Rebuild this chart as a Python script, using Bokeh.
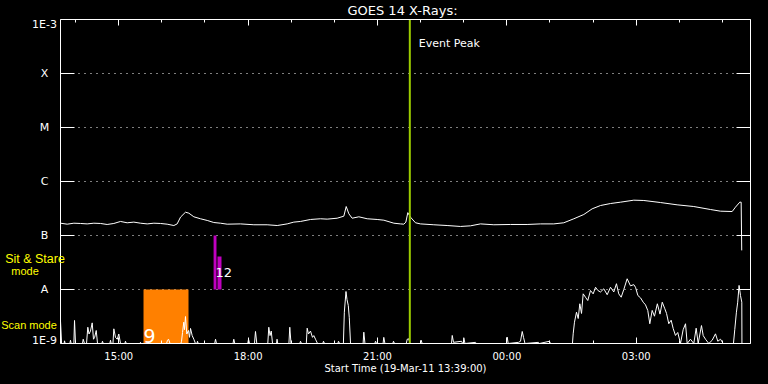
from bokeh.plotting import figure
from bokeh.models import (Range1d, FixedTicker, LinearAxis, LogAxis, Label)
from bokeh.embed import file_html
from bokeh.resources import INLINE

# ---------------- data ----------------
title_text = "GOES 14 X-Rays:"
x_axis_text = "Start Time (19-Mar-11 13:39:00)"
# time axis: minutes after 19-Mar-11 13:39:00
t_start, t_end = 0, 960
major_ticks = [81, 261, 441, 621, 801]
major_labels = ["15:00", "18:00", "21:00", "00:00", "03:00"]
minor_ticks = [21, 81, 141, 201, 261, 321, 381, 441, 501, 561, 621, 681, 741, 801, 861, 921]

decades = [1e-9, 1e-8, 1e-7, 1e-6, 1e-5, 1e-4, 1e-3]
decade_labels = ["1E-9", "A", "B", "C", "M", "X", "1E-3"]

# long channel (1-8 A), flux in 1e-7 W/m^2
long_t = [0, 9.3, 18.6, 27.8, 37.1, 46.4, 55.7, 64.9, 74.2, 83.5,
          92.8, 102, 111.3, 120.6, 129.9, 139.1, 148.4, 157.7, 162.3, 167,
          173.9, 178.6, 185.5, 194.8, 204.1, 213.3, 222.6, 231.9, 250.4, 269,
          287.5, 301.5, 315.4, 324.6, 333.9, 347.8, 361.7, 371, 384.9, 394.2,
          397.5, 401.2, 405.8, 415.1, 426.7, 440.6, 449.9, 463.8, 473.0, 477.7,
          480.5, 483.2, 486.9, 493.9, 500.8, 519.4, 537.9, 556.5, 570.4, 584.3,
          602.9, 626.0, 649.2, 667.8, 686.3, 700.2, 714.2, 728.1, 739.7, 751.3,
          765.2, 779.1, 797.6, 811.6, 834.7, 857.9, 881.1, 904.3, 918.2, 934.5,
          939.1, 945.1, 947.0, 947.8]
long_f = [1.69, 1.62, 1.69, 1.67, 1.64, 1.69, 1.67, 1.60, 1.67, 1.82,
          1.72, 1.77, 1.69, 1.64, 1.69, 1.67, 1.62, 1.53, 1.64, 2.19,
          2.70, 2.59, 2.22, 2.04, 1.90, 1.74, 1.69, 1.62, 1.64, 1.58,
          1.58, 1.53, 1.64, 1.77, 1.82, 1.98, 2.04, 2.01, 2.09, 2.28,
          3.44, 2.52, 2.09, 2.22, 2.04, 1.98, 1.92, 1.69, 1.64, 1.62,
          1.77, 2.65, 2.19, 1.72, 1.64, 1.58, 1.53, 1.47, 1.51, 1.64,
          1.58, 1.60, 1.60, 1.64, 1.64, 1.72, 2.04, 2.45, 3.12, 3.59,
          3.91, 4.14, 4.51, 4.45, 4.08, 3.70, 3.44, 3.03, 2.82, 2.78,
          3.35, 4.14, 4.14, 0.53]

# short channel (0.5-4 A), flux in 1e-9 W/m^2
short_t = [0, 1.5, 5.0, 5.6, 6.5, 13.0, 13.9, 14.8, 18.6, 19.5, 20.9, 30.6, 31.6, 33.4,
           36.2, 38.0, 39.7, 41.7, 44.1, 45.9, 47.5, 49.7, 51.5, 57.5, 58.4, 59.5,
           68.6, 69.6, 70.5, 73.0, 74.2, 76.5, 79.0, 81.1, 83.5, 89.5, 90.4, 91.5,
           110.4, 111.3, 112.2, 147.5, 148.9, 150.3, 152.4, 167.5, 168.4, 169.8, 171.5,
           172.5, 173.9, 175.7, 178.1, 179.5, 180.9, 183.2, 185.5, 187.8, 189.8, 190.6,
           191.6, 214.5, 215.7, 217.0, 240.0, 241.1, 242.5, 260.5, 261.6, 263.0, 269.9,
           271.3, 273.1, 288.4, 289.8, 291.5, 293.2, 295.0, 300.5, 301.3, 302.2, 317.8,
           319.0, 320.7, 332.9, 333.9, 335.3, 342.0, 343.2, 345.0, 347.8, 350.6, 352.4,
           354.8, 357.6, 364.9, 365.9, 367.3, 385.8, 386.8, 388.2, 393.6, 394.9, 397.2,
           398.6, 400.4, 401.8, 403.5, 421.0, 422.0, 423.6, 437.3, 438.3, 439.7, 448.8,
           449.8, 451.4, 462.3, 463.3, 464.7, 481.0, 482.4, 484.5, 486.3, 500.8, 501.8,
           503.2, 544.0, 545.0, 546.8, 557.9, 559.5, 560.3, 561.1, 562.8, 577.4, 578.8,
           620.5, 621.5, 622.9, 637.2, 640.0, 642.4, 644.2, 646.3, 665.0, 666.4, 680.3,
           681.7, 712.3, 713.3, 715.1, 717.9, 720.3, 722.5, 724.9, 727.2, 730.4, 733.6,
           737.4, 741.1, 744.4, 747.6, 751.3, 755.9, 760.6, 765.2, 769.8, 773.5, 776.7,
           780.1, 783.7, 788.4, 793.0, 797.6, 800.0, 803.3, 807.0, 810.7, 813.9, 817.1,
           819.9, 823.2, 826.4, 830.4, 834.1, 837.2, 840.5, 843.2, 846.3, 849.6, 852.4,
           855.6, 858.8, 862.6, 866.3, 869.6, 871.9, 876.5, 881.1, 884.4, 887.2, 891.8,
           894.2, 897.4, 902.0, 906.7, 911.3, 914.5, 918.3, 922.0, 936.3, 938.1, 940.4,
           942.2, 944.1, 946.1, 947.9, 948.1]
short_f = [2.6, 1.0, 1.0, 1.12, 1.0, 1.0, 1.15, 1.0, 1.0, 2.67, 1.0, 1.0, 1.2, 1.0,
           1.0, 2.0, 1.5, 1.7, 2.41, 1.2, 1.3, 1.74, 1.0, 1.0, 1.1, 1.0,
           1.0, 1.15, 1.0, 1.0, 1.87, 1.3, 1.2, 1.5, 1.0, 1.0, 1.1, 1.0,
           1.0, 1.05, 1.0, 1.0, 1.15, 1.2, 1.0, 1.0, 1.1, 1.6, 2.48,
           1.8, 3.16, 1.5, 1.74, 1.3, 1.9, 1.4, 1.2, 1.0, 1.0, 1.1,
           1.0, 1.0, 1.2, 1.0, 1.0, 1.2, 1.0, 1.0, 1.2, 1.0, 1.0,
           1.67, 1.0, 1.0, 2.0, 1.4, 1.7, 1.0, 1.0, 1.2, 1.0, 1.0,
           2.0, 1.0, 1.0, 1.1, 1.0, 1.0, 1.92, 1.5, 1.7, 1.3, 1.4,
           1.2, 1.0, 1.0, 1.1, 1.0, 1.0, 1.1, 1.0, 1.0, 3.8, 9.18,
           6.5, 5.06, 3.0, 1.0, 1.0, 1.62, 1.0, 1.0, 1.1, 1.0, 1.0,
           1.3, 1.0, 1.0, 1.1, 1.0, 1.0, 1.2, 1.22, 1.0, 1.0, 1.15,
           1.0, 1.0, 1.41, 1.05, 1.1, 1.0, 1.0, 1.28, 1.0, 1.05, 1.0,
           1.0, 1.31, 1.0, 1.05, 1.1, 1.67, 1.3, 1.0, 1.05, 1.0, 1.1,
           1.0, 1.0, 1.51, 2.48, 3.8, 2.9, 5.44, 3.6, 8.32, 7.2, 6.25,
           9.58, 8.3, 11.0, 9.6, 9.0, 10.3, 8.0, 11.0, 9.0, 12.8, 8.3,
           7.2, 10.0, 15.8, 11.7, 12.3, 11.0, 7.74, 7.0, 5.82, 5.2, 4.08,
           2.32, 4.1, 3.2, 5.44, 3.5, 5.82, 4.5, 3.6, 2.32, 2.7, 1.9,
           1.41, 1.6, 1.0, 1.8, 2.32, 1.0, 1.2, 1.0, 1.92, 1.0, 2.15,
           1.4, 1.2, 1.0, 1.15, 1.51, 1.1, 1.2, 1.0, 1.0, 1.8, 3.8,
           5.82, 11.9, 7.7, 5.82, 1.0]

# observing modes
scan_start = [115.5]
scan_end = [178.1]
scan_count = "9"
ss_start = [213.0, 218.4]
ss_end = [217.0, 224.0]
ss_top = [1.0e-7, 4.1e-8]
ss_count = "12"
event_peak_t = 486.0
event_text = "Event Peak"

# ---------------- layout ----------------
W, H = 768, 384
PLOT_L, PLOT_R, PLOT_T, PLOT_B = 60, 750, 19, 343   # data box in pixels
FONT = "DejaVu Sans"
WHITE = "#ffffff"
YELLOW = "#ffff00"

y_lo, y_hi = decades[0], decades[-1]
min_per_px = (t_end - t_start) / (PLOT_R - PLOT_L)
dec_per_px = 6.0 / (PLOT_B - PLOT_T)
x_range = Range1d(t_start - PLOT_L * min_per_px, t_end + (W - PLOT_R) * min_per_px)
y_range = Range1d(y_lo * 10 ** (-(H - PLOT_B) * dec_per_px),
                  y_hi * 10 ** (PLOT_T * dec_per_px))


def up(v, px):
    """value shifted up by px pixels on the log axis (for text placement)"""
    return v * 10 ** (px * dec_per_px)


p = figure(width=W, height=H, min_border=0, x_range=x_range, y_range=y_range,
           y_axis_type="log", x_axis_location=None, y_axis_location=None,
           output_backend="svg", toolbar_location=None,
           background_fill_color="black", border_fill_color="black",
           outline_line_color=None)
p.grid.visible = False

decade_ticker = FixedTicker(ticks=decades, minor_ticks=[])
time_ticker = FixedTicker(ticks=major_ticks, minor_ticks=minor_ticks)


def hide_labels(ax, ticks):
    ax.major_label_overrides = {t: "" for t in ticks}
    ax.major_label_text_color = None
    ax.major_label_standoff = 0


def y_axis(loc):
    ax = LogAxis(ticker=decade_ticker, fixed_location=loc, bounds=(y_lo, y_hi))
    ax.axis_line_color = WHITE
    ax.major_tick_line_color = WHITE
    ax.major_tick_in = 14
    ax.major_tick_out = 0
    ax.minor_tick_line_color = None
    hide_labels(ax, decades)
    return ax


def x_axis(loc, labels):
    ax = LinearAxis(ticker=time_ticker, fixed_location=loc, bounds=(t_start, t_end))
    ax.axis_line_color = WHITE
    ax.major_tick_line_color = WHITE
    ax.minor_tick_line_color = WHITE
    ax.major_tick_in = 6
    ax.major_tick_out = 0
    ax.minor_tick_in = 3
    ax.minor_tick_out = 0
    if labels:
        ax.major_label_overrides = {t: l for t, l in zip(major_ticks, major_labels)}
        ax.major_label_text_color = WHITE
        ax.major_label_text_font = FONT
        ax.major_label_text_font_size = "10px"
        ax.major_label_standoff = 7
    else:
        hide_labels(ax, major_ticks)
    return ax


# dotted decade grid inside the data box
inner = decades[1:-1]
p.segment(x0=[t_start] * len(inner), x1=[t_end] * len(inner), y0=inner, y1=inner,
          line_color=WHITE, line_width=1, line_dash="1 5")

# observing mode blocks
p.quad(left=scan_start, right=scan_end, bottom=[y_lo], top=[1e-8],
       fill_color="#ff8000", line_color=None)
p.quad(left=ss_start, right=ss_end, bottom=[1e-8, 1e-8], top=ss_top,
       fill_color="#c000c0", line_color=None)

# traces
p.line(long_t, [v * 1e-7 for v in long_f], line_color=WHITE, line_width=1)
p.line(short_t, [v * 1e-9 for v in short_f], line_color=WHITE, line_width=1)

# event peak line
p.line([event_peak_t, event_peak_t], [y_lo, y_hi], line_color="#9ccc00", line_width=2)

# axes (own box)
p.add_layout(y_axis(t_start), "left")
p.add_layout(y_axis(t_end), "right")
p.add_layout(x_axis(y_lo, True), "below")
p.add_layout(x_axis(y_hi, False), "above")


def text(x, y, s, color=WHITE, size="11px", font=FONT, align="left", xu="data", yu="data", xo=0):
    p.add_layout(Label(x=x, y=y, x_units=xu, y_units=yu, x_offset=xo, text=s,
                       text_color=color, text_font=font, text_font_size=size,
                       text_align=align, text_baseline="middle"))


# texts (y = vertical centre of the glyphs)
text(event_peak_t, up(y_hi, -24), event_text, xo=9)
text(scan_start[0], up(y_lo, 7.5), scan_count, size="19px")
text(ss_start[0], up(1e-8, 17), ss_count, size="13px", xo=2)

for v, lab in zip(decades, decade_labels):
    shift = -5 if v == y_hi else (3 if v == y_lo else 0)
    text(44, up(v, shift), lab, align="center", xu="screen")

for s, cx, cy, fs in [("Sit & Stare", 34.5, 258, "12.5px"), ("mode", 24.5, 270, "11px"),
                      ("Scan mode", 28.5, 324, "11px")]:
    text(cx, H - cy, s, color=YELLOW, font="Liberation Sans", size=fs,
         align="center", xu="screen", yu="screen")

text(402, H - 10, title_text, size="13px", align="center", xu="screen", yu="screen")
text(405, H - 368, x_axis_text, size="10px", align="center", xu="screen", yu="screen")

html = file_html(p, INLINE)
html = html.replace("</head>", "<style>html,body{margin:0;padding:0;background:#000000;}</style></head>", 1)
open("out.html", "w").write(html)
